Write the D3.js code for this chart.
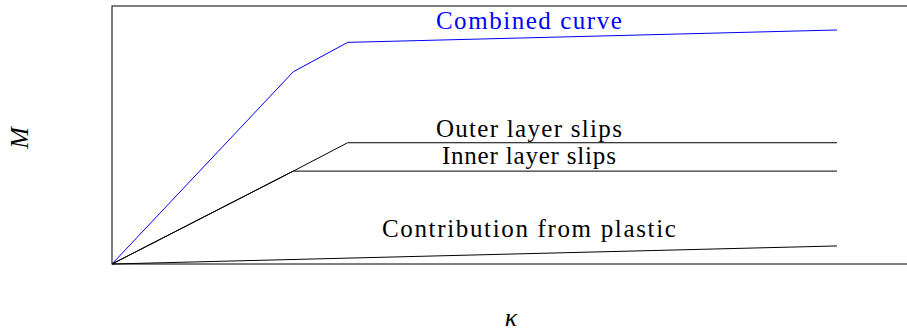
<!DOCTYPE html>
<html>
<head>
<meta charset="utf-8">
<script src="https://cdn.jsdelivr.net/npm/d3@7"></script>
<style>
  body { margin: 0; background: #fff; }
</style>
</head>
<body>
<svg id="chart" width="907" height="334"></svg>
<script>
// curvature breakpoints (kappa) and moment values
let kappa = [0, 2.5, 3.25, 10];
let combined = [0, 7.45, 8.59, 9.07];
let outerLayer = [0, 3.6, 4.7, 4.7];
let innerLayer = [0, 3.6, 3.6, 3.6];
let plastic = [0, 0.175, 0.23, 0.7];

let seriesNames = ["Combined curve", "Outer layer slips", "Inner layer slips", "Contribution from plastic"];
let labelKappa = [5.75, 5.75, 5.75, 5.75];
let labelM = [9.11, 4.92, 3.86, 1.06];

const width = 907, height = 334;
const FONT = "Liberation Serif";
const svg = d3.select("#chart");

let x = d3.scaleLinear().domain([0, 11]).range([112, 909.5]);
let y = d3.scaleLinear().domain([0, 10]).range([264, 6]);

// frame
svg.append("rect")
  .attr("x", x(0))
  .attr("y", y(10))
  .attr("width", x(11) - x(0))
  .attr("height", y(0) - y(10))
  .attr("fill", "none")
  .attr("stroke", "black")
  .attr("stroke-width", 1);

let toPoints = vals => kappa.map((k, i) => [k, vals[i]]);
let series = [
  {name: seriesNames[0], pts: toPoints(combined), color: "#0000ff", w: 186},
  {name: seriesNames[1], pts: toPoints(outerLayer), color: "black", w: 186},
  {name: seriesNames[2], pts: toPoints(innerLayer).filter((p, i) => i != 2), color: "black", w: 174},
  {name: seriesNames[3], pts: toPoints(plastic).filter((p, i) => i == 0 || i == 3), color: "black", w: 294}
];

let line = d3.line().x(d => x(d[0])).y(d => y(d[1]));

svg.selectAll(".curve")
  .data(series)
  .enter()
  .append("path")
  .attr("class", "curve")
  .attr("d", d => line(d.pts))
  .attr("fill", "none")
  .attr("stroke", d => d.color)
  .attr("stroke-width", 1);

// labels over each curve (CM is wider than Times, so stretch spacing)
svg.selectAll(".lbl")
  .data(series)
  .enter()
  .append("text")
  .attr("class", "lbl")
  .attr("x", (d, i) => x(labelKappa[i]))
  .attr("y", (d, i) => y(labelM[i]))
  .attr("text-anchor", "middle")
  .attr("font-family", FONT)
  .attr("font-size", 25)
  .attr("textLength", d => d.w)
  .attr("lengthAdjust", "spacing")
  .attr("fill", d => d.color)
  .text(d => d.name);

// axis titles
svg.append("text")
  .attr("x", 511)
  .attr("y", 326)
  .attr("text-anchor", "middle")
  .attr("font-family", FONT)
  .attr("font-size", 26)
  .attr("font-style", "italic")
  .text("κ");

svg.append("text")
  .attr("transform", "translate(28,138) rotate(-90)")
  .attr("text-anchor", "middle")
  .attr("font-family", FONT)
  .attr("font-size", 26)
  .attr("font-style", "italic")
  .text("M");
</script>
</body>
</html>
